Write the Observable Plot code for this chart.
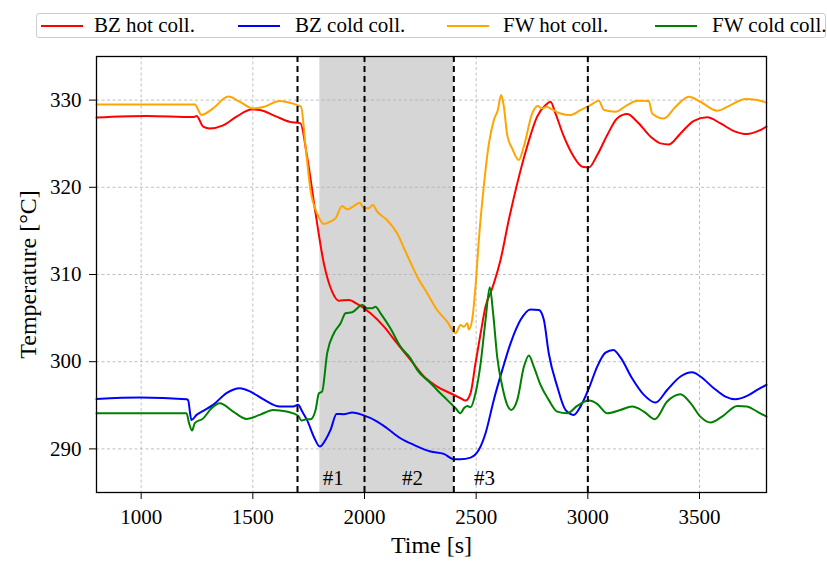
<!DOCTYPE html>
<html>
<head>
<meta charset="utf-8">
<script src="https://cdn.jsdelivr.net/npm/d3@7"></script>
<script src="https://cdn.jsdelivr.net/npm/@observablehq/plot@0.6"></script>
<style>
  html, body { margin: 0; padding: 0; background: #fff; }
  #wrap { width: 827px; height: 561px; font-family: 'Liberation Serif', 'DejaVu Serif', serif; }
  #legend { position: relative; width: 827px; height: 50px; }
  #legend .box { position: absolute; left: 36px; top: 13px; width: 788px; height: 23px;
    border: 1px solid #cccccc; border-radius: 3px; background: #fff; }
  #legend .sw { position: absolute; top: 11px; width: 42px; height: 0; border-top: 2px solid; }
  #legend .lb { position: absolute; top: 0px; font-size: 21px; line-height: 23px; color: #000; white-space: nowrap;
    font-family: 'Liberation Serif', 'DejaVu Serif', serif; }
  #chart svg, #chart svg text { font-family: 'Liberation Serif', 'DejaVu Serif', serif !important; }
</style>
</head>
<body>
<div id="wrap">
  <div id="legend"><div class="box" id="lbox"></div></div>
  <div id="chart"></div>
</div>
<script>
// ---- data ----
const seriesNames = ["BZ hot coll.", "BZ cold coll.", "FW hot coll.", "FW cold coll."];
const seriesColors = ["red", "blue", "orange", "green"];

const bzHotT = [800, 1024, 1233, 1248, 1278, 1307, 1367, 1427, 1494, 1531, 1606, 1666, 1713, 1743, 1781, 1818, 1855, 1885, 1930, 1967, 2027, 2087, 2146, 2206, 2266, 2325, 2385, 2430, 2452, 2475, 2497, 2520, 2542, 2572, 2609, 2646, 2684, 2728, 2773, 2811, 2833, 2855, 2893, 2937, 2975, 3005, 3042, 3087, 3131, 3176, 3221, 3281, 3325, 3363, 3415, 3475, 3534, 3594, 3654, 3713, 3766, 3800];
const bzHotV = [328.0, 328.17, 328.05, 328.17, 326.95, 326.75, 327.1, 328.1, 328.93, 328.86, 328.1, 327.5, 327.33, 323.5, 317.0, 311.28, 308.04, 307.0, 307.08, 306.62, 305.55, 304.02, 302.1, 300.2, 298.3, 297.15, 296.38, 295.81, 295.54, 296.4, 299.82, 303.26, 306.32, 308.42, 311.66, 316.25, 320.45, 324.65, 328.1, 329.43, 329.81, 328.47, 325.8, 323.5, 322.36, 322.28, 323.7, 326.0, 327.9, 328.4, 327.52, 325.8, 325.04, 324.92, 326.18, 327.63, 328.02, 327.33, 326.45, 326.1, 326.49, 326.95];

const bzColdT = [800, 994, 1203, 1210, 1225, 1248, 1278, 1322, 1382, 1442, 1487, 1546, 1621, 1681, 1703, 1721, 1743, 1773, 1800, 1825, 1848, 1875, 1907, 1945, 1990, 2057, 2101, 2161, 2221, 2296, 2355, 2400, 2430, 2475, 2512, 2542, 2579, 2617, 2654, 2699, 2743, 2781, 2803, 2825, 2863, 2900, 2937, 2967, 3005, 3042, 3079, 3114, 3146, 3198, 3251, 3303, 3355, 3415, 3467, 3504, 3564, 3616, 3661, 3713, 3758, 3800];
const bzColdV = [295.73, 295.9, 295.7, 295.6, 293.3, 293.9, 294.36, 295.05, 296.4, 296.96, 296.6, 295.7, 294.85, 294.85, 295.05, 294.28, 293.3, 291.4, 290.27, 291.03, 292.18, 294.0, 293.98, 294.17, 293.9, 293.14, 292.37, 291.22, 290.46, 289.7, 289.43, 288.82, 288.82, 289.0, 289.89, 291.8, 295.62, 299.06, 302.1, 304.8, 306.0, 305.93, 304.8, 300.97, 297.15, 294.47, 293.9, 294.85, 296.96, 299.44, 301.04, 301.35, 300.5, 298.1, 296.19, 295.31, 296.76, 298.3, 298.79, 298.3, 296.96, 296.0, 295.7, 296.08, 296.76, 297.34];

const fwHotT = [800, 1240, 1270, 1322, 1390, 1442, 1501, 1546, 1621, 1666, 1699, 1716, 1736, 1758, 1788, 1818, 1848, 1870, 1900, 1922, 1952, 1979, 1997, 2019, 2037, 2057, 2101, 2146, 2184, 2236, 2281, 2325, 2370, 2408, 2430, 2445, 2460, 2467, 2482, 2497, 2512, 2534, 2557, 2579, 2597, 2612, 2624, 2639, 2661, 2691, 2713, 2751, 2776, 2796, 2815, 2840, 2878, 2922, 2967, 3012, 3049, 3072, 3124, 3176, 3221, 3273, 3288, 3340, 3393, 3452, 3504, 3579, 3639, 3706, 3758, 3800];
const fwHotV = [329.5, 329.5, 328.3, 329.05, 330.4, 329.8, 329.05, 329.2, 329.9, 329.7, 329.43, 329.24, 324.7, 319.7, 317.0, 315.8, 316.06, 316.44, 317.85, 317.47, 317.85, 318.24, 317.6, 317.6, 317.97, 317.2, 316.25, 314.72, 312.62, 309.75, 307.85, 305.93, 304.6, 303.26, 304.2, 304.0, 304.4, 303.7, 304.8, 308.6, 313.96, 320.07, 325.0, 327.7, 328.86, 330.58, 329.24, 325.99, 324.46, 323.13, 324.65, 328.47, 329.32, 329.05, 329.24, 328.93, 328.47, 328.28, 328.86, 329.43, 329.93, 328.86, 328.67, 329.43, 329.93, 329.89, 328.47, 327.9, 329.24, 330.39, 329.81, 328.78, 329.43, 330.12, 330.0, 329.7];

const fwColdT = [800, 1203, 1215, 1228, 1240, 1278, 1315, 1352, 1412, 1472, 1531, 1591, 1651, 1703, 1718, 1740, 1758, 1781, 1796, 1810, 1833, 1863, 1893, 1915, 1945, 1990, 2012, 2034, 2049, 2072, 2116, 2161, 2206, 2236, 2296, 2325, 2370, 2408, 2430, 2445, 2460, 2475, 2497, 2520, 2542, 2561, 2576, 2594, 2617, 2639, 2657, 2684, 2714, 2736, 2758, 2788, 2825, 2863, 2908, 2952, 3005, 3042, 3087, 3146, 3198, 3251, 3300, 3355, 3415, 3460, 3504, 3549, 3601, 3669, 3713, 3758, 3800];
const fwColdV = [294.09, 294.09, 292.9, 292.1, 292.95, 293.5, 294.66, 295.24, 294.28, 293.44, 293.9, 294.47, 294.28, 293.8, 293.25, 293.4, 293.4, 294.47, 296.38, 296.57, 301.0, 303.26, 304.4, 305.55, 305.67, 306.5, 306.13, 306.13, 306.3, 305.55, 303.83, 301.73, 300.4, 299.06, 297.53, 296.76, 295.62, 294.66, 294.09, 294.66, 294.93, 294.78, 296.38, 299.82, 304.8, 308.53, 305.55, 300.58, 297.15, 295.05, 294.47, 295.62, 299.44, 300.7, 299.44, 297.34, 295.62, 294.28, 294.09, 294.93, 295.54, 295.16, 294.09, 294.47, 294.85, 294.28, 293.4, 295.43, 296.27, 295.24, 293.7, 293.02, 293.7, 294.93, 294.85, 294.28, 293.7];

const xTicks = [1000, 1500, 2000, 2500, 3000, 3500];
const yTicks = [290, 300, 310, 320, 330];
const xDomain = [800, 3800];
const yDomain = [285, 335];
const eventTimes = [1700, 2000, 2400, 3000];
const shadedSpan = [1800, 2400];
const phaseLabels = ["#1", "#2", "#3"];
const phaseLabelT = [1860, 2215, 2537];
const phaseLabelY = 286.6;

// ---- build ----
const seriesT = [bzHotT, bzColdT, fwHotT, fwColdT];
const seriesV = [bzHotV, bzColdV, fwHotV, fwColdV];
const rows = [];
seriesNames.forEach((name, i) => {
  seriesT[i].forEach((t, j) => rows.push({series: name, t, v: seriesV[i][j]}));
});

// legend
const lbox = document.getElementById("lbox");
const swLeft = [4, 201, 410, 618];
const lbLeft = [57, 258, 466, 675];
seriesNames.forEach((name, i) => {
  const sw = document.createElement("div");
  sw.className = "sw"; sw.style.left = swLeft[i] + "px"; sw.style.borderTopColor = seriesColors[i];
  lbox.appendChild(sw);
  const lb = document.createElement("div");
  lb.className = "lb"; lb.style.left = lbLeft[i] + "px"; lb.textContent = name;
  lbox.appendChild(lb);
});

const serif = "'Liberation Serif', 'DejaVu Serif', serif";
const chart = Plot.plot({
  width: 827,
  height: 511,
  marginLeft: 96,
  marginRight: 61,
  marginTop: 6,
  marginBottom: 69,
  style: {fontFamily: serif, fontSize: "21px", background: "white", color: "black"},
  x: {domain: xDomain},
  y: {domain: yDomain},
  color: {domain: seriesNames, range: seriesColors},
  marks: [
    Plot.rect([shadedSpan], {x1: d => d[0], x2: d => d[1], fill: "#d6d6d6"}),
    Plot.gridX(xTicks, {stroke: "#b0b0b0", strokeOpacity: 1, strokeWidth: 0.8, strokeDasharray: "3,2.5"}),
    Plot.gridY(yTicks, {stroke: "#b0b0b0", strokeOpacity: 1, strokeWidth: 0.8, strokeDasharray: "3,2.5"}),
    Plot.line(rows, {x: "t", y: "v", z: "series", stroke: "series", strokeWidth: 2, curve: "monotone-x"}),
    Plot.ruleX(eventTimes, {stroke: "black", strokeWidth: 2, strokeDasharray: "6,4"}),
    Plot.text(phaseLabels, {x: (d, i) => phaseLabelT[i], y: () => phaseLabelY, text: d => d, fontSize: 21, fill: "black"}),
    Plot.frame({stroke: "black", strokeWidth: 1.3}),
    Plot.axisX({ticks: xTicks, tickFormat: d3.format("d"), tickSize: 7, tickPadding: 10, fontSize: 21, label: null}),
    Plot.axisY({ticks: yTicks, tickFormat: d3.format("d"), tickSize: 7, tickPadding: 8, fontSize: 21, label: null}),
    Plot.text(["Time [s]"], {frameAnchor: "bottom", lineAnchor: "middle", textAnchor: "middle", dy: 53, fontSize: 24, fill: "black"}),
    Plot.text(["Temperature [°C]"], {frameAnchor: "left", lineAnchor: "middle", textAnchor: "middle", rotate: -90, dx: -68, fontSize: 24, fill: "black"})
  ]
});
document.getElementById("chart").appendChild(chart);
</script>
</body>
</html>
